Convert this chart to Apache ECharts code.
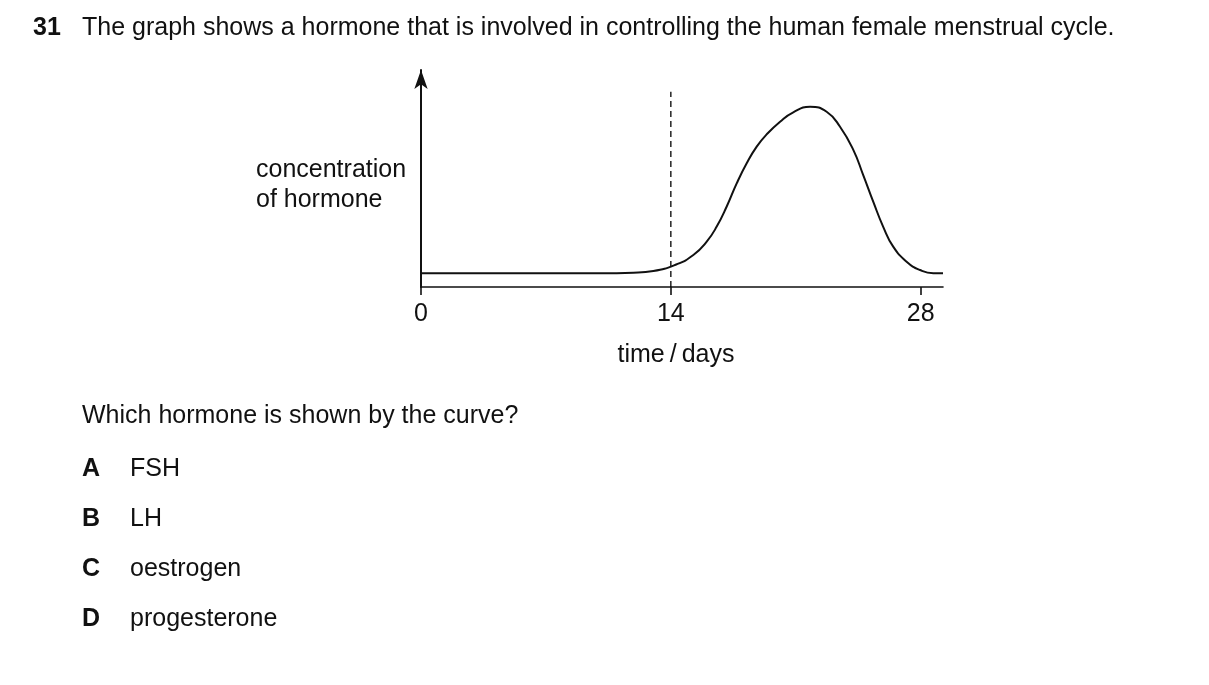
<!DOCTYPE html>
<html>
<head>
<meta charset="utf-8">
<script src="https://cdn.jsdelivr.net/npm/echarts@6/dist/echarts.min.js"></script>
<style>
  html, body { margin: 0; padding: 0; background: #fff; }
  #chart { width: 1209px; height: 685px; }
</style>
</head>
<body>
<div id="chart"></div>
<script>
// Data (arbitrary concentration units)
const days = [0, 5, 10.03, 11.9, 13.02, 14.33, 15.26, 16.01, 16.57, 17.13, 17.69, 18.25, 18.81, 19.37, 20.12, 20.86, 21.8, 22.73, 23.48, 24.23, 24.78, 25.34, 25.9, 26.46, 27.21, 27.96, 28.71, 29.25];
const concentration = [0.76, 0.76, 0.76, 0.79, 0.88, 1.26, 1.77, 2.51, 3.34, 4.45, 5.73, 6.84, 7.76, 8.44, 9.14, 9.66, 9.97, 9.69, 8.86, 7.57, 6.19, 4.72, 3.33, 2.23, 1.4, 0.94, 0.76, 0.76];
const tickDays = [0, 14, 28];
const dashedDay = 14;
const dashedTop = 10.8;

const questionNumber = '31';
const questionText = 'The graph shows a hormone that is involved in controlling the human female menstrual cycle.';
const yAxisTitle = 'concentration\nof hormone';
const xAxisTitle = 'time\u2009/\u2009days';
const prompt = 'Which hormone is shown by the curve?';
const optionLetters = ['A', 'B', 'C', 'D'];
const optionTexts = ['FSH', 'LH', 'oestrogen', 'progesterone'];

const FONT = '"Liberation Sans", Arial, Helvetica, sans-serif';
const INK = '#111';
const FS = 25;

const chart = echarts.init(document.getElementById('chart'), null, { renderer: 'canvas' });

function txt(text, x, y, bold, align) {
  return {
    type: 'text', x: x, y: y,
    style: {
      text: text, fontFamily: FONT, fontSize: FS, fontWeight: bold ? 'bold' : 'normal',
      fill: INK, align: align || 'left', verticalAlign: 'middle', lineHeight: 30
    }
  };
}

const graphics = [
  txt(questionNumber, 33, 28, true),
  txt(questionText, 82, 28, false),
  txt(yAxisTitle, 256, 185, false),
  txt(xAxisTitle, 676, 355, false, 'center'),
  txt(prompt, 82, 416, false)
];
optionLetters.forEach((l, i) => {
  const y = 469 + i * 50;
  graphics.push(txt(l, 82, y, true));
  graphics.push(txt(optionTexts[i], 130, y, false));
});

chart.setOption({
  backgroundColor: '#fff',
  animation: false,
  grid: { left: 421, top: 70, width: 522, height: 217, containLabel: false },
  xAxis: {
    type: 'value',
    min: 0,
    max: 29.25,
    interval: 14,
    axisLine: { show: true, onZero: false, lineStyle: { color: INK, width: 1.6 } },
    axisTick: { show: true, customValues: tickDays, length: 8, lineStyle: { color: INK, width: 1.6 } },
    axisLabel: { show: true, customValues: tickDays, margin: 15, color: INK, fontSize: FS, fontFamily: FONT },
    splitLine: { show: false }
  },
  yAxis: {
    type: 'value',
    min: 0,
    max: 12,
    axisLine: { show: true, onZero: false, symbol: ['none', 'arrow'], symbolSize: [10, 19], lineStyle: { color: INK, width: 2 } },
    axisTick: { show: false },
    axisLabel: { show: false },
    splitLine: { show: false }
  },
  series: [
    {
      name: 'dashed',
      type: 'line',
      data: [[dashedDay, 0], [dashedDay, dashedTop]],
      symbol: 'none',
      lineStyle: { color: '#000', width: 1.3, type: [6, 4] },
      silent: true
    },
    {
      name: 'hormone',
      type: 'line',
      data: days.map((d, i) => [d, concentration[i]]),
      symbol: 'none',
      smooth: 0.5,
      lineStyle: { color: INK, width: 2 }
    }
  ],
  graphic: graphics
});
</script>
</body>
</html>
